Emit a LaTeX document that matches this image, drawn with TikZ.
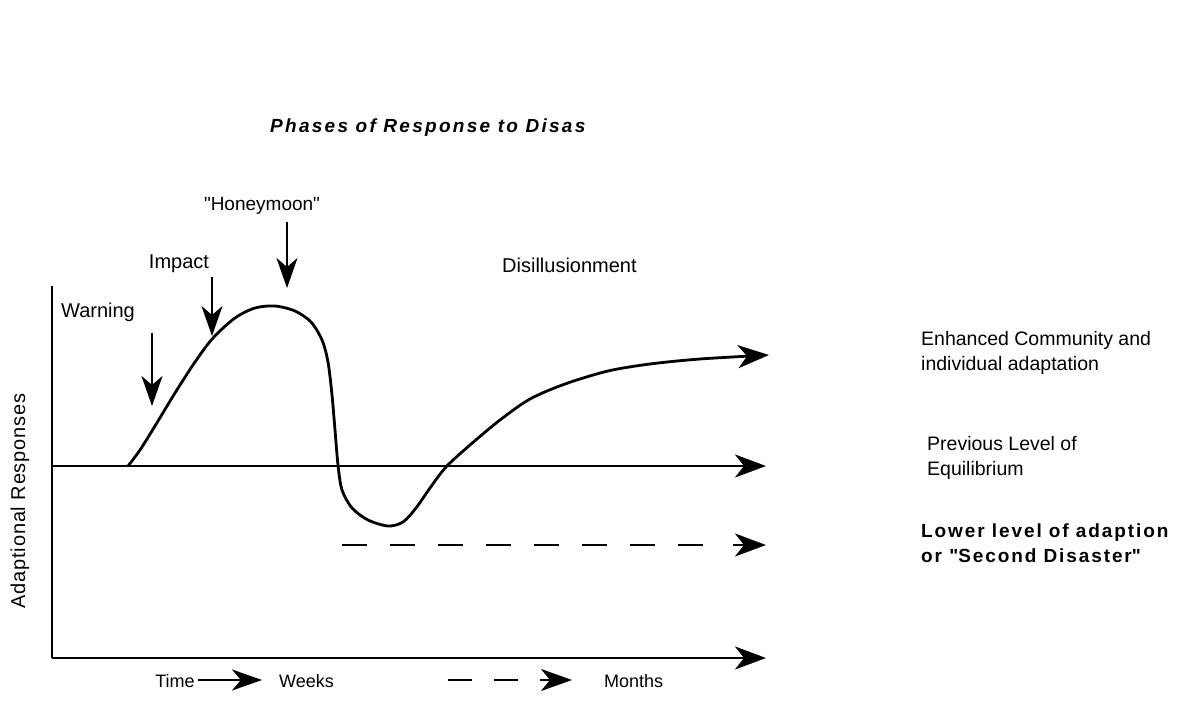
\documentclass[tikz,border=0pt]{standalone}
\usepackage{fontspec}
\setmainfont{Liberation Sans}
\newfontfamily\titlefont[LetterSpace=12]{Liberation Sans}
\newfontfamily\lowfont[LetterSpace=10]{Liberation Sans}
\newfontfamily\ylabfont[LetterSpace=4]{Liberation Sans}
\usetikzlibrary{arrows.meta}
\begin{document}
\begin{tikzpicture}[x=1pt,y=-1pt,
  tip/.style={-{Stealth[length=31pt,width=23pt,inset=9pt]}},
  axisline/.style={line width=2.7pt},
  axarrow/.style={line width=2.7pt,tip},
  downarrow/.style={line width=2.5pt,-{Stealth[length=30pt,width=21pt,inset=9pt]}},
  curveline/.style={line width=2.8pt,line join=round},
  dashline/.style={line width=2.7pt,dash pattern=on 25pt off 23pt},
  lbl/.style={inner sep=0pt,font=\fontsize{20}{24}\selectfont},
  rlbl/.style={inner sep=0pt,anchor=west,align=left,font=\fontsize{19.5}{24.5}\selectfont},
  blbl/.style={inner sep=0pt,font=\fontsize{18}{22}\selectfont},
]
\useasboundingbox (0,0) rectangle (1181,703);

% title
\node[inner sep=0pt,anchor=west] (title) at (270,128)
  {\titlefont\bfseries\itshape\fontsize{19}{22}\selectfont Phases of Response to Disas};

% axes
\coordinate (ytop) at (52,286);
\coordinate (orig) at (52,658);
\coordinate (xend) at (766,658);
\draw[axisline] (ytop) -- (orig);
\draw[axarrow] (orig) -- (xend);

% previous level of equilibrium
\coordinate (eqs) at (52,466);
\coordinate (eqe) at (766,466);
\draw[axarrow] (eqs) -- (eqe);

% lower level dashed line
\coordinate (ds) at (342,545);
\coordinate (de) at (710,545);
\coordinate (dh) at (733,545);
\coordinate (dt) at (766,545);
\draw[dashline] (ds) -- (de);
\draw[axarrow] (dh) -- (dt);

% response curve
\draw[curveline,tip] plot[smooth,tension=0.5] coordinates {
  (128,466) (140,450) (155,426) (175,393) (195,362) (213,338)
  (235,318) (255,308) (275,306) (295,311) (311,322) (322,340)
  (328,362) (332,395) (335,430) (338,465) (342,490) (352,508)
  (368,520) (388,526) (403,522) (416,508) (430,488) (446,467)
  (470,445) (500,420) (530,399) (565,384) (608,371) (650,364)
  (700,359) (769,355)};

% phase labels and arrows
\node[lbl] (warn) at (98,312) {Warning};
\coordinate (wa1) at (152,333);
\coordinate (wa2) at (152,406);
\draw[downarrow] (wa1) -- (wa2);

\node[lbl] (impact) at (179,264) {Impact};
\coordinate (ia1) at (212,277);
\coordinate (ia2) at (212,336);
\draw[downarrow] (ia1) -- (ia2);

\node[lbl,font=\fontsize{19}{23}\selectfont] (honey) at (262,206) {\textquotedbl Honeymoon\textquotedbl};
\coordinate (ha1) at (287,222);
\coordinate (ha2) at (287,288);
\draw[downarrow] (ha1) -- (ha2);

\node[lbl,anchor=west] (disill) at (502,265) {Disillusionment};

% right labels
\node[rlbl] (enh) at (921,353) {Enhanced Community and\\individual adaptation};
\node[rlbl] (prev) at (927,458) {Previous Level of\\Equilibrium};
\node[rlbl,font=\lowfont\bfseries\fontsize{19}{25}\selectfont] (lower) at (921,543)
  {Lower level of adaption\\or \textquotedbl Second Disaster\textquotedbl};

% y-axis label
\node[inner sep=0pt,rotate=90] (ylab) at (20,501)
  {\ylabfont\fontsize{20}{24}\selectfont Adaptional Responses};

% bottom legend
\node[blbl] (time) at (175,681) {Time};
\coordinate (ta1) at (198,680);
\coordinate (ta2) at (262,680);
\draw[line width=2.7pt,-{Stealth[length=30pt,width=21pt,inset=9pt]}] (ta1) -- (ta2);
\node[blbl,anchor=west] (weeks) at (279,681) {Weeks};
\coordinate (ma1) at (448,680);
\coordinate (ma2) at (524,680);
\coordinate (ma3) at (540,680);
\coordinate (ma4) at (572,680);
\draw[line width=2.7pt,dash pattern=on 24pt off 22pt] (ma1) -- (ma2);
\draw[line width=2.7pt,-{Stealth[length=31pt,width=22pt,inset=9pt]}] (ma3) -- (ma4);
\node[blbl,anchor=west] (months) at (604,681) {Months};
\end{tikzpicture}
\end{document}
